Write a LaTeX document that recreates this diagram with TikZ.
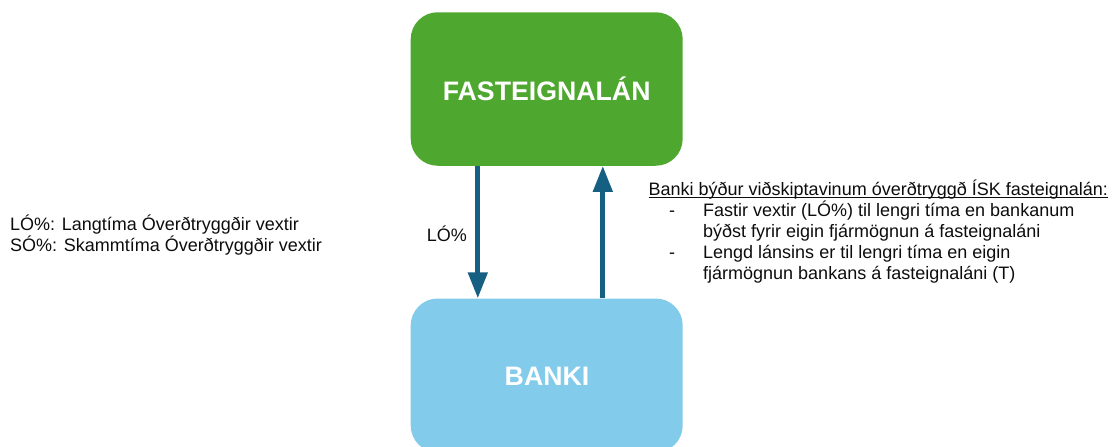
\documentclass[tikz,border=0pt]{standalone}
\usepackage{fontspec}
\setmainfont{Liberation Sans}
\usetikzlibrary{arrows.meta}
\definecolor{boxgreen}{HTML}{4EA72E}
\definecolor{boxblue}{HTML}{83CBEB}
\definecolor{arrowblue}{HTML}{156082}
\tikzset{
  bigbox/.style={rounded corners=27pt, minimum width=272pt, inner sep=0pt, text=white, font=\bfseries\fontsize{26.7}{30}\selectfont},
  arr/.style={draw=arrowblue, line width=4.8pt, -{Triangle[width=19pt,length=26pt]}},
  txt/.style={anchor=base west, inner sep=0pt, font=\fontsize{18}{21}\selectfont, text=black!95},
}
\begin{document}
\begin{tikzpicture}[x=1pt,y=-1pt]
\useasboundingbox (0,0) rectangle (1112,447);
\clip (0,0) rectangle (1112,447);
\node[bigbox, fill=boxgreen, minimum height=153.5pt] (gr) at (546.7,89) {FASTEIGNALÁN};
\node[bigbox, fill=boxblue, minimum height=154pt, anchor=north] (bk) at (546.7,298.3) {};
\node[text=white, font=\bfseries\fontsize{26.7}{30}\selectfont, inner sep=0pt] (bkt) at (547,376) {BANKI};
\draw[arr] ([xshift=67.3pt]gr.south west) -- ([xshift=67.3pt]bk.north west);
\draw[arr] ([xshift=192.3pt]bk.north west) -- ([xshift=192.3pt]gr.south west);
\node[txt, anchor=base east] (lo) at (467,241) {LÓ\%};
\node[txt] (l1) at (10,230) {LÓ\%: Langtíma Óverðtryggðir vextir};
\node[txt] (l2) at (10,251) {SÓ\%: Skammtíma Óverðtryggðir vextir};
\node[txt] (r1) at (648.5,195) {Banki býður viðskiptavinum óverðtryggð ÍSK fasteignalán:};
\draw[line width=1.1pt, black!95] ([yshift=-2.6pt]r1.base west) -- ([yshift=-2.6pt]r1.base east);
\node[txt] (d1) at (669,216) {-};
\node[txt] (r2) at (703,216) {Fastir vextir (LÓ\%) til lengri tíma en bankanum};
\node[txt] (r3) at (703,237) {býðst fyrir eigin fjármögnun á fasteignaláni};
\node[txt] (d2) at (669,258) {-};
\node[txt] (r4) at (703,258) {Lengd lánsins er til lengri tíma en eigin};
\node[txt] (r5) at (703,279) {fjármögnun bankans á fasteignaláni (T)};
\end{tikzpicture}
\end{document}
